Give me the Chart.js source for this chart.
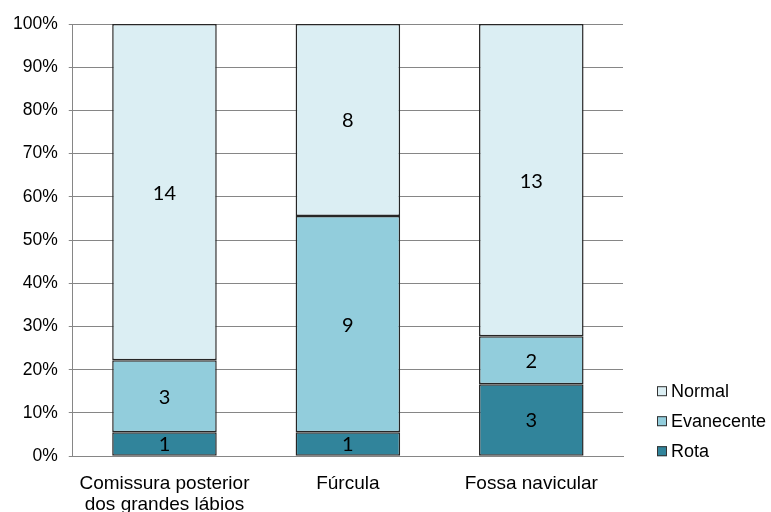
<!DOCTYPE html>
<html>
<head>
<meta charset="utf-8">
<script src="https://cdn.jsdelivr.net/npm/chart.js@4/dist/chart.umd.min.js"></script>
<style>
  html, body { margin: 0; padding: 0; background: #fff; }
  #wrap { width: 771px; height: 512px; }
</style>
</head>
<body>
<div id="wrap"><canvas id="chart" width="771" height="512"></canvas></div>
<script>
let categories = [['Comissura posterior', 'dos grandes lábios'], 'Fúrcula', 'Fossa navicular'];
let rota = [1, 1, 3];
let evanecente = [3, 9, 2];
let normal = [14, 8, 13];
let yTicks = [0, 10, 20, 30, 40, 50, 60, 70, 80, 90, 100];

let totals = categories.map((c, i) => rota[i] + evanecente[i] + normal[i]);
let pct = (arr) => arr.map((v, i) => v / totals[i] * 100);

let series = [
  { label: 'Rota', counts: rota, color: '#31849B' },
  { label: 'Evanecente', counts: evanecente, color: '#92CDDC' },
  { label: 'Normal', counts: normal, color: '#DBEEF3' }
];

let FONT = '"Liberation Sans", Arial, sans-serif';

// counts in the middle of each segment
let countLabels = {
  id: 'countLabels',
  afterDatasetsDraw(chart) {
    let ctx = chart.ctx;
    ctx.save();
    ctx.font = '20px Lato, "Open Sans", sans-serif';
    ctx.fillStyle = '#000';
    ctx.textAlign = 'center';
    ctx.textBaseline = 'middle';
    chart.data.datasets.forEach((ds, di) => {
      chart.getDatasetMeta(di).data.forEach((bar, i) => {
        ctx.fillText(String(ds.counts[i]), bar.x, (bar.y + bar.base) / 2 + 1);
      });
    });
    ctx.restore();
  }
};

// legend at the lower right, top item = last series
let sideLegend = {
  id: 'sideLegend',
  afterDraw(chart) {
    let ctx = chart.ctx;
    let area = chart.chartArea;
    let x = area.right + 34;
    ctx.save();
    ctx.font = '18px ' + FONT;
    ctx.textBaseline = 'middle';
    ctx.textAlign = 'left';
    let items = chart.data.datasets.slice().reverse();
    items.forEach((ds, k) => {
      let y = area.bottom - 5 - (items.length - 1 - k) * 30;
      ctx.fillStyle = ds.backgroundColor;
      ctx.fillRect(x, y - 5, 10, 10);
      ctx.strokeStyle = '#333';
      ctx.lineWidth = 1;
      ctx.strokeRect(x + 0.5, y - 4.5, 9, 9);
      ctx.fillStyle = '#000';
      ctx.fillText(ds.label, x + 14, y + 1);
    });
    ctx.restore();
  }
};

new Chart(document.getElementById('chart'), {
  type: 'bar',
  data: {
    labels: categories,
    datasets: series.map(s => ({
      label: s.label,
      data: pct(s.counts),
      counts: s.counts,
      backgroundColor: s.color,
      borderColor: '#262626',
      borderWidth: 1.5,
      borderSkipped: false,
      categoryPercentage: 0.57,
      barPercentage: 1
    }))
  },
  options: {
    responsive: false,
    animation: false,
    layout: { padding: { top: 24, left: 2, right: 148, bottom: -12 } },
    plugins: {
      title: { display: false },
      tooltip: { enabled: false },
      legend: { display: false }
    },
    scales: {
      x: {
        stacked: true,
        grid: { display: false },
        border: { color: '#868686' },
        ticks: {
          color: '#000',
          padding: 9,
          maxRotation: 0,
          font: { family: FONT, size: 19, lineHeight: 1.1 }
        }
      },
      y: {
        stacked: true,
        min: 0,
        max: 100,
        afterBuildTicks: (axis) => { axis.ticks = yTicks.map(v => ({ value: v })); },
        grid: { color: '#868686', tickLength: 4 },
        border: { color: '#868686' },
        ticks: {
          color: '#000',
          padding: 11,
          callback: (v) => v + '%',
          font: { family: FONT, size: 17.5 }
        }
      }
    }
  },
  plugins: [countLabels, sideLegend]
});
</script>
</body>
</html>
